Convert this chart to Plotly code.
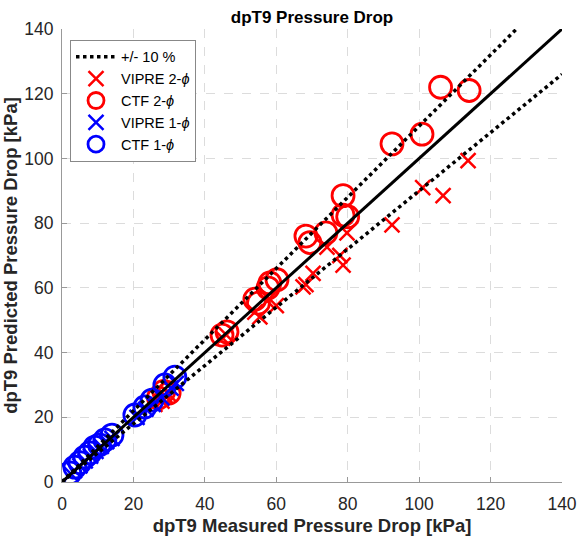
import plotly.graph_objects as go

# CTF 2-phase (red circles)
ctf2_x = [27, 28.5, 30, 44.8, 46.2, 54, 55, 57.7, 58.2, 60.2, 68.3, 69.4, 73.9, 78.7, 78.7, 80, 92.4, 100.8, 106, 114]
ctf2_y = [26, 28, 27.5, 45.4, 46.4, 56.5, 55.3, 60, 61.5, 62.5, 76, 74, 77, 88.5, 82.5, 82, 104.5, 107.5, 122, 121]
# VIPRE 2-phase (red crosses)
vip2_x = [26, 28, 29, 30, 45, 46, 54, 55.4, 57.4, 60, 67.5, 68.3, 70.3, 74.2, 77.8, 78.7, 79.8, 92.4, 101, 106.7, 113.7]
vip2_y = [24, 25, 26.5, 27, 44.5, 45.5, 52.5, 51, 56, 54.5, 60.3, 61, 64.5, 72.6, 70, 67, 77, 79.5, 91, 88.5, 99.3]
# VIPRE 1-phase (blue crosses)
vip1_x = [2.5, 3.5, 5, 6.5, 8, 9.5, 11, 12.5, 14, 21, 23.5, 25.5, 28, 30.5, 32]
vip1_y = [2.5, 3.5, 5, 6.5, 8, 9.5, 11, 12.5, 13.5, 20, 22.5, 24, 26, 29, 30.5]
# CTF 1-phase (blue circles)
ctf1_x = [2.2, 3.6, 5, 6.4, 7.8, 9.2, 10.5, 12, 14, 20.4, 23.2, 25.2, 28.8, 31.6]
ctf1_y = [2.8, 4.6, 6, 7.7, 9, 10.8, 11.5, 13, 14.5, 20.7, 23.2, 25.3, 30, 32.4]

line_x = [0, 140]
band = 0.10

FONT = "Liberation Sans, Arial, Helvetica"

fig = go.Figure()

fig.add_trace(go.Scatter(x=vip2_x, y=vip2_y, mode="markers", name="VIPRE 2-<i>ϕ</i>",
                         marker=dict(symbol="x-thin-open", size=15, color="red", line=dict(color="red", width=2.5)),
                         legendrank=2))
fig.add_trace(go.Scatter(x=ctf2_x, y=ctf2_y, mode="markers", name="CTF 2-<i>ϕ</i>",
                         marker=dict(symbol="circle-open", size=22, color="red", line=dict(color="red", width=2.8)),
                         legendrank=3))
fig.add_trace(go.Scatter(x=vip1_x, y=vip1_y, mode="markers", name="VIPRE 1-<i>ϕ</i>",
                         marker=dict(symbol="x-thin-open", size=15, color="blue", line=dict(color="blue", width=2.5)),
                         legendrank=4))
fig.add_trace(go.Scatter(x=ctf1_x, y=ctf1_y, mode="markers", name="CTF 1-<i>ϕ</i>",
                         marker=dict(symbol="circle-open", size=22, color="blue", line=dict(color="blue", width=2.8)),
                         legendrank=5))

fig.add_trace(go.Scatter(x=line_x, y=[v * (1 + band) for v in line_x], mode="lines", name="+/- 10 %",
                         line=dict(color="black", width=3.5, dash="dot"), legendrank=1, legendgroup="band"))
fig.add_trace(go.Scatter(x=line_x, y=[v * (1 - band) for v in line_x], mode="lines", name="+/- 10 %",
                         line=dict(color="black", width=3.5, dash="dot"), showlegend=False, legendgroup="band"))
fig.add_trace(go.Scatter(x=line_x, y=line_x, mode="lines", name="1:1",
                         line=dict(color="black", width=3), showlegend=False))

axis_common = dict(
    range=[0, 140], dtick=20, showgrid=True, gridcolor="#dcdcdc", griddash="dash", gridwidth=1,
    showline=True, linecolor="#999999", linewidth=1, ticks="inside", ticklen=5, tickcolor="#999999",
    zeroline=False, tickfont=dict(family=FONT, size=17.5, color="#262626"),
    mirror=False, automargin=False,
)

fig.update_layout(
    width=577, height=542,
    margin=dict(l=62, r=15, t=29, b=60),
    paper_bgcolor="white", plot_bgcolor="white",
    title=dict(text="<b>dpT9 Pressure Drop</b>", xref="paper", x=0.5, xanchor="center",
               yref="container", y=0.968, yanchor="middle",
               font=dict(family=FONT, size=17, color="black")),
    xaxis=dict(axis_common, ticklabelstandoff=6,
               title=dict(text="<b>dpT9 Measured Pressure Drop [kPa]</b>", standoff=6,
                          font=dict(family=FONT, size=18.5, color="#262626"))),
    yaxis=dict(axis_common, ticklabelstandoff=4,
               title=dict(text="<b>dpT9 Predicted Pressure Drop [kPa]</b>", standoff=6,
                          font=dict(family=FONT, size=18.5, color="#262626"))),
    legend=dict(x=0.016, y=0.976, xanchor="left", yanchor="top", bgcolor="white", bordercolor="#888888",
                borderwidth=1, font=dict(family=FONT, size=14.5, color="black"),
                tracegroupgap=0, itemwidth=40),
    showlegend=True,
)

fig.write_html("out.html")
